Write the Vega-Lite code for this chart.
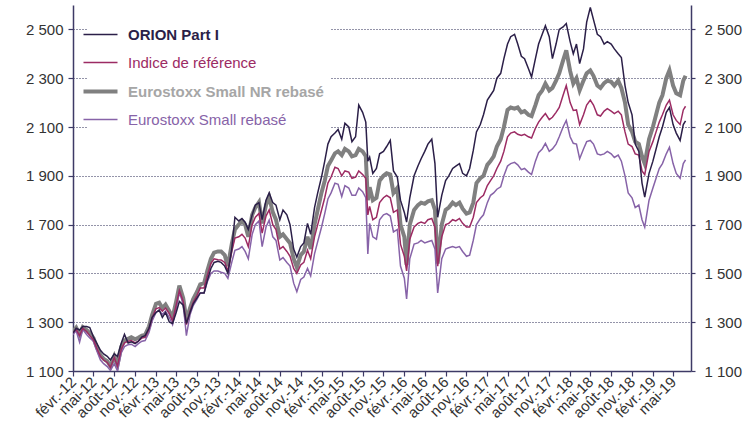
{
"$schema": "https://vega.github.io/schema/vega-lite/v6.json",
"width": 618, "height": 366,
"autosize": {"type": "none"},
"padding": {"left": 73, "top": 5, "right": 53, "bottom": 63},
"background": "white",
"config": {"view": {"stroke": null}, "font": "Liberation Sans"},
"data": {"values": [
{"d":"2012/02/01","O":1255,"I":1258,"N":1262,"S":1250},
{"d":"2012/02/15","O":1275,"I":1270,"N":1278,"S":1265},
{"d":"2012/03/01","O":1268,"I":1245,"N":1250,"S":1218},
{"d":"2012/03/15","O":1282,"I":1275,"N":1280,"S":1270},
{"d":"2012/04/01","O":1282,"I":1262,"N":1268,"S":1250},
{"d":"2012/04/15","O":1278,"I":1245,"N":1255,"S":1235},
{"d":"2012/05/01","O":1240,"I":1228,"N":1235,"S":1222},
{"d":"2012/05/15","O":1215,"I":1195,"N":1200,"S":1185},
{"d":"2012/06/01","O":1185,"I":1160,"N":1165,"S":1145},
{"d":"2012/06/15","O":1170,"I":1145,"N":1150,"S":1130},
{"d":"2012/07/01","O":1160,"I":1135,"N":1140,"S":1118},
{"d":"2012/07/15","O":1145,"I":1115,"N":1120,"S":1102},
{"d":"2012/08/01","O":1170,"I":1155,"N":1160,"S":1130},
{"d":"2012/08/15","O":1160,"I":1120,"N":1125,"S":1100},
{"d":"2012/09/01","O":1215,"I":1190,"N":1200,"S":1175},
{"d":"2012/09/15","O":1250,"I":1215,"N":1225,"S":1200},
{"d":"2012/10/01","O":1215,"I":1222,"N":1232,"S":1208},
{"d":"2012/10/15","O":1220,"I":1225,"N":1238,"S":1210},
{"d":"2012/11/01","O":1212,"I":1215,"N":1230,"S":1200},
{"d":"2012/11/15","O":1222,"I":1222,"N":1236,"S":1212},
{"d":"2012/12/01","O":1240,"I":1235,"N":1245,"S":1222},
{"d":"2012/12/15","O":1245,"I":1238,"N":1248,"S":1225},
{"d":"2013/01/01","O":1275,"I":1272,"N":1282,"S":1258},
{"d":"2013/01/15","O":1320,"I":1318,"N":1330,"S":1305},
{"d":"2013/02/01","O":1340,"I":1355,"N":1375,"S":1340},
{"d":"2013/02/15","O":1350,"I":1360,"N":1380,"S":1348},
{"d":"2013/03/01","O":1320,"I":1345,"N":1358,"S":1332},
{"d":"2013/03/15","O":1340,"I":1358,"N":1372,"S":1345},
{"d":"2013/04/01","O":1300,"I":1335,"N":1345,"S":1318},
{"d":"2013/04/15","O":1295,"I":1305,"N":1318,"S":1290},
{"d":"2013/05/01","O":1340,"I":1370,"N":1385,"S":1360},
{"d":"2013/05/15","O":1385,"I":1430,"N":1450,"S":1422},
{"d":"2013/06/01","O":1370,"I":1385,"N":1398,"S":1375},
{"d":"2013/06/15","O":1295,"I":1290,"N":1310,"S":1245},
{"d":"2013/07/01","O":1340,"I":1345,"N":1358,"S":1330},
{"d":"2013/07/15","O":1375,"I":1382,"N":1395,"S":1368},
{"d":"2013/08/01","O":1400,"I":1410,"N":1425,"S":1395},
{"d":"2013/08/15","O":1420,"I":1440,"N":1455,"S":1420},
{"d":"2013/09/01","O":1420,"I":1440,"N":1460,"S":1420},
{"d":"2013/09/15","O":1470,"I":1490,"N":1510,"S":1465},
{"d":"2013/10/01","O":1520,"I":1540,"N":1560,"S":1500},
{"d":"2013/10/15","O":1545,"I":1560,"N":1585,"S":1510},
{"d":"2013/11/01","O":1550,"I":1556,"N":1590,"S":1510},
{"d":"2013/11/15","O":1545,"I":1555,"N":1590,"S":1505},
{"d":"2013/12/01","O":1530,"I":1545,"N":1575,"S":1500},
{"d":"2013/12/15","O":1500,"I":1510,"N":1530,"S":1480},
{"d":"2014/01/01","O":1600,"I":1590,"N":1620,"S":1545},
{"d":"2014/01/15","O":1730,"I":1645,"N":1680,"S":1595},
{"d":"2014/02/01","O":1715,"I":1650,"N":1700,"S":1600},
{"d":"2014/02/15","O":1725,"I":1660,"N":1715,"S":1610},
{"d":"2014/03/01","O":1710,"I":1645,"N":1700,"S":1590},
{"d":"2014/03/15","O":1680,"I":1610,"N":1650,"S":1560},
{"d":"2014/04/01","O":1740,"I":1700,"N":1740,"S":1660},
{"d":"2014/04/15","O":1780,"I":1730,"N":1770,"S":1700},
{"d":"2014/05/01","O":1790,"I":1746,"N":1792,"S":1715},
{"d":"2014/05/15","O":1720,"I":1665,"N":1705,"S":1610},
{"d":"2014/06/01","O":1800,"I":1735,"N":1780,"S":1690},
{"d":"2014/06/15","O":1830,"I":1760,"N":1812,"S":1718},
{"d":"2014/07/01","O":1790,"I":1700,"N":1750,"S":1650},
{"d":"2014/07/15","O":1780,"I":1680,"N":1720,"S":1635},
{"d":"2014/08/01","O":1720,"I":1600,"N":1650,"S":1555},
{"d":"2014/08/15","O":1760,"I":1610,"N":1660,"S":1565},
{"d":"2014/09/01","O":1740,"I":1590,"N":1640,"S":1545},
{"d":"2014/09/15","O":1700,"I":1570,"N":1624,"S":1530},
{"d":"2014/10/01","O":1600,"I":1520,"N":1560,"S":1460},
{"d":"2014/10/15","O":1567,"I":1500,"N":1525,"S":1425},
{"d":"2014/11/01","O":1610,"I":1535,"N":1575,"S":1475},
{"d":"2014/11/15","O":1625,"I":1545,"N":1590,"S":1485},
{"d":"2014/12/01","O":1705,"I":1595,"N":1650,"S":1520},
{"d":"2014/12/15","O":1660,"I":1560,"N":1600,"S":1490},
{"d":"2015/01/01","O":1770,"I":1650,"N":1700,"S":1580},
{"d":"2015/01/15","O":1830,"I":1700,"N":1760,"S":1630},
{"d":"2015/02/01","O":1896,"I":1760,"N":1832,"S":1690},
{"d":"2015/02/15","O":1960,"I":1810,"N":1880,"S":1745},
{"d":"2015/03/01","O":2030,"I":1870,"N":1940,"S":1805},
{"d":"2015/03/15","O":2060,"I":1895,"N":1963,"S":1830},
{"d":"2015/04/01","O":2075,"I":1935,"N":1992,"S":1870},
{"d":"2015/04/15","O":2090,"I":1930,"N":2000,"S":1865},
{"d":"2015/05/01","O":2050,"I":1900,"N":1985,"S":1815},
{"d":"2015/05/15","O":2115,"I":1920,"N":2010,"S":1860},
{"d":"2015/06/01","O":2100,"I":1915,"N":2000,"S":1850},
{"d":"2015/06/15","O":2040,"I":1890,"N":1980,"S":1820},
{"d":"2015/07/01","O":2060,"I":1895,"N":1985,"S":1820},
{"d":"2015/07/15","O":2190,"I":1920,"N":2010,"S":1850},
{"d":"2015/08/01","O":2160,"I":1905,"N":2000,"S":1835},
{"d":"2015/08/15","O":2120,"I":1890,"N":1980,"S":1810},
{"d":"2015/08/24","O":1960,"I":1740,"N":1800,"S":1580},
{"d":"2015/09/01","O":1976,"I":1775,"N":1853,"S":1705},
{"d":"2015/09/15","O":1910,"I":1720,"N":1800,"S":1650},
{"d":"2015/10/01","O":1930,"I":1730,"N":1810,"S":1640},
{"d":"2015/10/15","O":1990,"I":1790,"N":1880,"S":1720},
{"d":"2015/11/01","O":2000,"I":1810,"N":1900,"S":1740},
{"d":"2015/11/15","O":2020,"I":1820,"N":1910,"S":1745},
{"d":"2015/12/01","O":2045,"I":1810,"N":1905,"S":1735},
{"d":"2015/12/15","O":1920,"I":1750,"N":1830,"S":1670},
{"d":"2016/01/01","O":1895,"I":1760,"N":1850,"S":1680},
{"d":"2016/01/15","O":1800,"I":1620,"N":1700,"S":1530},
{"d":"2016/02/01","O":1750,"I":1570,"N":1650,"S":1480},
{"d":"2016/02/11","O":1710,"I":1510,"N":1535,"S":1395},
{"d":"2016/02/25","O":1810,"I":1640,"N":1700,"S":1560},
{"d":"2016/03/15","O":1900,"I":1690,"N":1760,"S":1620},
{"d":"2016/04/01","O":1940,"I":1705,"N":1780,"S":1625},
{"d":"2016/04/15","O":1970,"I":1710,"N":1790,"S":1635},
{"d":"2016/05/01","O":2000,"I":1705,"N":1785,"S":1625},
{"d":"2016/05/15","O":2030,"I":1720,"N":1795,"S":1630},
{"d":"2016/06/01","O":2050,"I":1725,"N":1800,"S":1635},
{"d":"2016/06/15","O":1950,"I":1690,"N":1760,"S":1600},
{"d":"2016/06/27","O":1730,"I":1530,"N":1540,"S":1420},
{"d":"2016/07/15","O":1820,"I":1650,"N":1700,"S":1560},
{"d":"2016/08/01","O":1880,"I":1700,"N":1760,"S":1600},
{"d":"2016/08/15","O":1900,"I":1705,"N":1770,"S":1605},
{"d":"2016/09/01","O":1930,"I":1720,"N":1790,"S":1610},
{"d":"2016/09/15","O":1940,"I":1715,"N":1780,"S":1605},
{"d":"2016/10/01","O":1950,"I":1725,"N":1790,"S":1610},
{"d":"2016/10/15","O":1910,"I":1705,"N":1765,"S":1590},
{"d":"2016/11/01","O":1900,"I":1690,"N":1745,"S":1570},
{"d":"2016/11/15","O":1930,"I":1690,"N":1750,"S":1575},
{"d":"2016/12/01","O":2004,"I":1730,"N":1790,"S":1636},
{"d":"2016/12/15","O":2080,"I":1790,"N":1870,"S":1700},
{"d":"2017/01/01","O":2110,"I":1810,"N":1890,"S":1725},
{"d":"2017/01/15","O":2150,"I":1820,"N":1900,"S":1740},
{"d":"2017/02/01","O":2210,"I":1860,"N":1945,"S":1790},
{"d":"2017/02/15","O":2230,"I":1880,"N":1960,"S":1820},
{"d":"2017/03/01","O":2250,"I":1900,"N":1980,"S":1830},
{"d":"2017/03/15","O":2300,"I":1930,"N":2020,"S":1845},
{"d":"2017/04/01","O":2320,"I":1960,"N":2050,"S":1855},
{"d":"2017/04/15","O":2380,"I":2000,"N":2100,"S":1900},
{"d":"2017/05/01","O":2440,"I":2060,"N":2170,"S":1940},
{"d":"2017/05/15","O":2470,"I":2075,"N":2180,"S":1950},
{"d":"2017/06/01","O":2480,"I":2080,"N":2175,"S":1955},
{"d":"2017/06/15","O":2440,"I":2070,"N":2180,"S":1945},
{"d":"2017/07/01","O":2390,"I":2065,"N":2160,"S":1925},
{"d":"2017/07/15","O":2380,"I":2070,"N":2165,"S":1930},
{"d":"2017/08/01","O":2340,"I":2060,"N":2150,"S":1915},
{"d":"2017/08/15","O":2305,"I":2055,"N":2145,"S":1905},
{"d":"2017/09/01","O":2380,"I":2095,"N":2190,"S":1960},
{"d":"2017/09/15","O":2440,"I":2120,"N":2230,"S":1995},
{"d":"2017/10/01","O":2480,"I":2140,"N":2250,"S":2010},
{"d":"2017/10/15","O":2515,"I":2155,"N":2278,"S":2033},
{"d":"2017/11/01","O":2470,"I":2130,"N":2250,"S":2000},
{"d":"2017/11/15","O":2380,"I":2140,"N":2260,"S":2010},
{"d":"2017/12/01","O":2440,"I":2160,"N":2290,"S":2030},
{"d":"2017/12/15","O":2500,"I":2180,"N":2320,"S":2060},
{"d":"2018/01/01","O":2510,"I":2230,"N":2373,"S":2100},
{"d":"2018/01/15","O":2524,"I":2270,"N":2414,"S":2127},
{"d":"2018/02/01","O":2450,"I":2200,"N":2330,"S":2060},
{"d":"2018/02/15","O":2400,"I":2168,"N":2278,"S":2033},
{"d":"2018/03/01","O":2440,"I":2170,"N":2300,"S":2030},
{"d":"2018/03/15","O":2360,"I":2110,"N":2250,"S":1970},
{"d":"2018/04/01","O":2420,"I":2150,"N":2290,"S":2010},
{"d":"2018/04/15","O":2530,"I":2190,"N":2320,"S":2040},
{"d":"2018/05/01","O":2590,"I":2210,"N":2332,"S":2045},
{"d":"2018/05/15","O":2540,"I":2190,"N":2310,"S":2030},
{"d":"2018/06/01","O":2480,"I":2150,"N":2270,"S":1990},
{"d":"2018/06/15","O":2470,"I":2145,"N":2260,"S":1985},
{"d":"2018/07/01","O":2440,"I":2165,"N":2280,"S":1990},
{"d":"2018/07/15","O":2450,"I":2175,"N":2290,"S":2000},
{"d":"2018/08/01","O":2440,"I":2165,"N":2285,"S":1990},
{"d":"2018/08/15","O":2420,"I":2155,"N":2270,"S":1975},
{"d":"2018/09/01","O":2400,"I":2165,"N":2290,"S":1985},
{"d":"2018/09/15","O":2385,"I":2150,"N":2260,"S":1960},
{"d":"2018/10/01","O":2270,"I":2080,"N":2200,"S":1900},
{"d":"2018/10/15","O":2200,"I":2030,"N":2110,"S":1830},
{"d":"2018/11/01","O":2150,"I":2020,"N":2080,"S":1810},
{"d":"2018/11/15","O":2030,"I":1990,"N":2040,"S":1770},
{"d":"2018/12/01","O":2000,"I":1985,"N":2030,"S":1780},
{"d":"2018/12/15","O":1870,"I":1920,"N":1980,"S":1720},
{"d":"2018/12/27","O":1813,"I":1905,"N":1950,"S":1690},
{"d":"2019/01/15","O":1910,"I":2000,"N":2050,"S":1800},
{"d":"2019/02/01","O":1960,"I":2040,"N":2100,"S":1850},
{"d":"2019/02/15","O":2010,"I":2080,"N":2150,"S":1890},
{"d":"2019/03/01","O":2060,"I":2120,"N":2200,"S":1930},
{"d":"2019/03/15","O":2100,"I":2150,"N":2230,"S":1950},
{"d":"2019/04/01","O":2160,"I":2190,"N":2300,"S":1990},
{"d":"2019/04/15","O":2180,"I":2210,"N":2332,"S":2017},
{"d":"2019/05/01","O":2110,"I":2150,"N":2270,"S":1950},
{"d":"2019/05/15","O":2075,"I":2127,"N":2238,"S":1910},
{"d":"2019/06/01","O":2045,"I":2110,"N":2230,"S":1890},
{"d":"2019/06/15","O":2110,"I":2170,"N":2290,"S":1950},
{"d":"2019/06/25","O":2125,"I":2185,"N":2310,"S":1965}
]},
"transform": [{"fold": ["N", "S", "I", "O"], "as": ["s", "v"]}],
"encoding": {
  "x": {"field": "d", "type": "temporal",
    "scale": {"domain": [{"year": 2012, "month": 2, "date": 1}, {"year": 2019, "month": 7, "date": 19}]},
    "axis": {"title": null, "grid": false,
      "values": [
        {"year": 2012, "month": 2, "date": 1}, {"year": 2012, "month": 5, "date": 1}, {"year": 2012, "month": 8, "date": 1}, {"year": 2012, "month": 11, "date": 1},
        {"year": 2013, "month": 2, "date": 1}, {"year": 2013, "month": 5, "date": 1}, {"year": 2013, "month": 8, "date": 1}, {"year": 2013, "month": 11, "date": 1},
        {"year": 2014, "month": 2, "date": 1}, {"year": 2014, "month": 5, "date": 1}, {"year": 2014, "month": 8, "date": 1}, {"year": 2014, "month": 11, "date": 1},
        {"year": 2015, "month": 2, "date": 1}, {"year": 2015, "month": 5, "date": 1}, {"year": 2015, "month": 8, "date": 1}, {"year": 2015, "month": 11, "date": 1},
        {"year": 2016, "month": 2, "date": 1}, {"year": 2016, "month": 5, "date": 1}, {"year": 2016, "month": 8, "date": 1}, {"year": 2016, "month": 11, "date": 1},
        {"year": 2017, "month": 2, "date": 1}, {"year": 2017, "month": 5, "date": 1}, {"year": 2017, "month": 8, "date": 1}, {"year": 2017, "month": 11, "date": 1},
        {"year": 2018, "month": 2, "date": 1}, {"year": 2018, "month": 5, "date": 1}, {"year": 2018, "month": 8, "date": 1}, {"year": 2018, "month": 11, "date": 1},
        {"year": 2019, "month": 2, "date": 1}, {"year": 2019, "month": 5, "date": 1}
      ],
      "labelExpr": "(['janv.','févr.','mars','avr.','mai','juin','juil.','août','sept.','oct.','nov.','déc.'])[month(datum.value)] + '-' + timeFormat(datum.value, '%y')",
      "labelAngle": -45, "labelAlign": "right", "labelBaseline": "middle",
      "labelFont": "Liberation Sans", "labelFontSize": 15, "labelColor": "#333333",
      "labelPadding": 3, "labelOverlap": false, "labelBound": false, "labelFlush": false,
      "domainColor": "#3d3a66", "domainWidth": 1.5, "tickColor": "#3d3a66", "tickSize": 5, "tickWidth": 1.2}
  },
  "y": {"field": "v", "type": "quantitative", "scale": {"domain": [1100, 2600], "nice": false, "zero": false}}
},
"layer": [
  {
    "mark": {"type": "line", "clip": true},
    "encoding": {
      "y": {"field": "v", "type": "quantitative",
        "axis": {"orient": "left", "title": null, "values": [1100, 1300, 1500, 1700, 1900, 2100, 2300, 2500],
          "labelExpr": "replace(format(datum.value, ','), ',', ' ')",
          "grid": true, "gridDash": [1, 2], "gridColor": "#2b2b55", "gridWidth": 1.2,
          "domainColor": "#3d3a66", "domainWidth": 1.5, "tickColor": "#3d3a66", "tickSize": 5, "tickWidth": 1.2,
          "labelFont": "Liberation Sans", "labelFontSize": 15, "labelColor": "#333333", "labelPadding": 5}},
      "color": {"field": "s", "type": "nominal",
        "scale": {"domain": ["O", "I", "N", "S"], "range": ["#2b1f48", "#9c2b63", "#808080", "#8763a8"]},
        "legend": {"orient": "none", "legendX": 14, "legendY": 16, "title": null,
          "symbolType": "M-1.7,0H1.7", "symbolSize": 400, "symbolStrokeWidth": 1.5,
          "labelFont": "Liberation Sans", "labelFontSize": 15, "labelOffset": 20, "labelLimit": 400,
          "rowPadding": 12, "padding": 6, "fillColor": "white", "strokeColor": null,
          "labelExpr": "datum.value === 'O' ? 'ORION Part I' : datum.value === 'I' ? 'Indice de référence' : datum.value === 'N' ? 'Eurostoxx Small NR rebasé' : 'Eurostoxx Small rebasé'",
          "encode": {
            "labels": {"update": {
              "fill": {"signal": "datum.value === 'O' ? '#2b1f48' : datum.value === 'I' ? '#9c2b63' : datum.value === 'N' ? '#a6a6a6' : '#8763a8'"},
              "fontWeight": {"signal": "(datum.value === 'O' || datum.value === 'N') ? 'bold' : 'normal'"}}},
            "symbols": {"update": {"strokeWidth": {"signal": "datum.value === 'N' ? 4 : 1.5"}}}
          }}},
      "strokeWidth": {"condition": {"test": "datum.s === 'N'", "value": 4}, "value": 1.5}
    }
  },
  {
    "mark": {"type": "line", "opacity": 0},
    "encoding": {
      "y": {"field": "v", "type": "quantitative",
        "axis": {"orient": "right", "title": null, "values": [1100, 1300, 1500, 1700, 1900, 2100, 2300, 2500],
          "labelExpr": "replace(format(datum.value, ','), ',', ' ')", "grid": false,
          "domainColor": "#3d3a66", "domainWidth": 1.5, "tickColor": "#3d3a66", "tickSize": 4, "tickWidth": 1.2,
          "labelFont": "Liberation Sans", "labelFontSize": 15, "labelColor": "#333333", "labelPadding": 9}},
      "detail": {"field": "s"}
    }
  }
],
"resolve": {"axis": {"y": "independent"}}
}
